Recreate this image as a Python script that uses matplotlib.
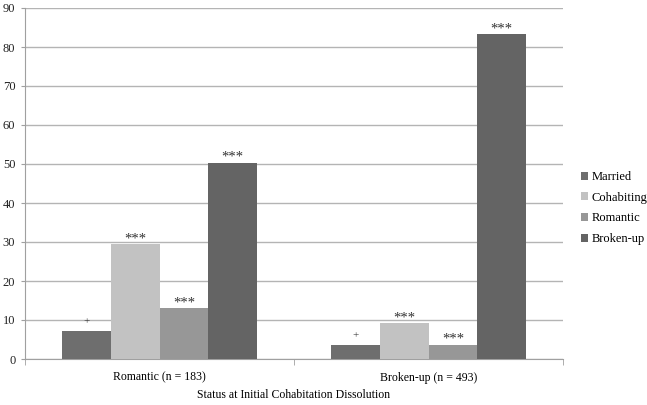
import matplotlib
matplotlib.use("Agg")
import matplotlib.pyplot as plt
import numpy as np

categories = ["Romantic (n = 183)", "Broken-up (n = 493)"]
series = ["Married", "Cohabiting", "Romantic", "Broken-up"]
values = {
    "Married": [7.1, 3.5],
    "Cohabiting": [29.4, 9.2],
    "Romantic": [13.1, 3.7],
    "Broken-up": [50.3, 83.3],
}
marks = {
    "Married": ["+", "+"],
    "Cohabiting": ["***", "***"],
    "Romantic": ["***", "***"],
    "Broken-up": ["***", "***"],
}
colors = ["#6e6e6e", "#c2c2c2", "#979797", "#646464"]

plt.rcParams['font.family'] = ['Liberation Serif', 'DejaVu Serif']

fig = plt.figure(figsize=(6.47, 4.05), dpi=100)
ax = fig.add_axes([25/647, 1-359/405, (563-25)/647, (359-8)/405])

x = np.arange(len(categories))
w = 0.181
for i, s in enumerate(series):
    pos = x + (i - 1.5) * w
    ax.bar(pos, values[s], width=w, color=colors[i], label=s, zorder=3)
    for p, v, m in zip(pos, values[s], marks[s]):
        if m == "+":
            ax.text(p, v + 1.2, m, ha="center", va="bottom", fontsize=8, color="#333333", zorder=4)
        else:
            ax.text(p, v - 0.3, m, ha="center", va="bottom", fontsize=10.5, color="#333333", zorder=4)

ax.set_xlim(-0.5, 1.5)
ax.set_ylim(0, 90)
ax.set_yticks(np.arange(0, 91, 10))
ax.yaxis.grid(True, color="#b4b4b4", linewidth=1.0, zorder=0)
ax.set_axisbelow(True)
ax.set_xticks(x)
ax.set_xticklabels(categories, fontsize=8.5)
ax.tick_params(axis="x", length=0, pad=9)
ax.set_xticks([-0.5, 0.5, 1.5], minor=True)
ax.tick_params(axis="x", which="minor", length=4, color="#a0a0a0")
ax.tick_params(axis="y", labelsize=9, length=3, color="#a0a0a0", pad=4, labelcolor="#222222")
for sp in ["top", "right"]:
    ax.spines[sp].set_visible(False)
for sp in ["left", "bottom"]:
    ax.spines[sp].set_color("#a0a0a0")
ax.set_xlabel("Status at Initial Cohabitation Dissolution", fontsize=8.5, labelpad=4)

leg = ax.legend(loc="center left", bbox_to_anchor=(1.012, 0.43), frameon=False,
                fontsize=9, handlelength=0.6, handleheight=0.6, handletextpad=0.3,
                labelspacing=0.7)

fig.savefig("out.png", dpi=100)
